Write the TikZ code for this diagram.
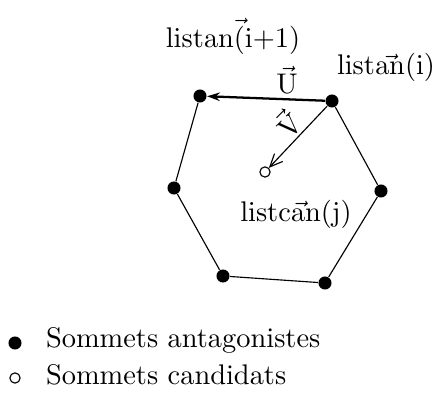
\documentclass[tikz,border=0pt]{standalone}
\usepackage{amsmath}
\usetikzlibrary{arrows.meta, positioning, calc}

\tikzset{
  pt/.style={circle, fill=black, inner sep=0pt, minimum size=4.6pt},
  cand/.style={circle, draw=black, fill=white, inner sep=0pt, minimum size=3.6pt, line width=0.4pt},
  side/.style={line width=0.4pt},
}

\begin{document}
\begin{tikzpicture}[x=0.352pt, y=0.352pt, font=\normalsize]
  \useasboundingbox (0,0) rectangle (438,392);

  % hexagon vertices
  \node[pt] (tl) at (200,296) {};
  \node[pt] (tr) at (332,291) {};
  \node[pt] (r)  at (381,201) {};
  \node[pt] (br) at (325,109) {};
  \node[pt] (bl) at (223,116) {};
  \node[pt] (l)  at (174,204) {};
  \node[cand] (c) at (265,220) {};

  % sides
  \draw[side] (tl) -- (l) -- (bl) -- (br) -- (r) -- (tr);

  % vectors
  \draw[-{Stealth[length=4.5pt, width=3pt]}, line width=0.8pt] (tr) -- (tl);
  \draw[-{Straight Barb[length=4.5pt, width=4pt]}, side] (tr) -- (c);

  % labels
  \node (lab1) at (233,356) {$\mathrm{listan}\vec{(}\mathrm{i{+}1)}$};
  \node (lab2) at (386,325) {$\mathrm{list}\vec{\mathrm{an}}\mathrm{(i)}$};
  \node (lab3) at (296,178) {$\mathrm{list}\vec{\mathrm{can}}\mathrm{(j)}$};
  \node (labu) at (287,312) {$\vec{\mathrm{U}}$};
  \node[rotate=45] (labv) at (287,269) {$\vec{\mathrm{V}}$};

  % legend
  \node[pt] (k1) at (15,49) {};
  \node[anchor=west] (t1) at (36,52) {Sommets antagonistes};
  \node[cand] (k2) at (15,14) {};
  \node[anchor=west] (t2) at (36,17) {Sommets candidats};
\end{tikzpicture}
\end{document}
